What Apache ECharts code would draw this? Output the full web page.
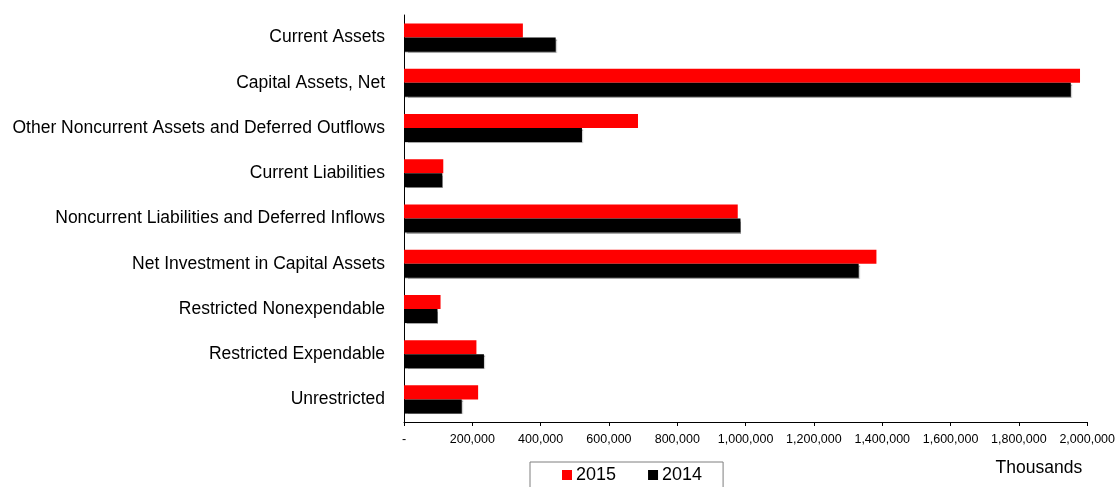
<!DOCTYPE html>
<html>
<head>
<meta charset="utf-8">
<script src="https://cdn.jsdelivr.net/npm/echarts@6/dist/echarts.min.js"></script>
<style>
  html, body { margin: 0; padding: 0; background: #fff; }
  #chart { width: 1118px; height: 487px; }
</style>
</head>
<body>
<div id="chart"></div>
<script>
// Statement of net position components, in thousands of dollars
const categories = [
  'Current Assets',
  'Capital Assets, Net',
  'Other Noncurrent Assets and Deferred Outflows',
  'Current Liabilities',
  'Noncurrent Liabilities and Deferred Inflows',
  'Net Investment in Capital Assets',
  'Restricted Nonexpendable',
  'Restricted Expendable',
  'Unrestricted'
];
const values2015 = [348000, 1979000, 685000, 115000, 977000, 1383000, 107000, 212000, 217000];
const values2014 = [444000, 1952000, 521000, 112000, 985000, 1331000, 98000, 234000, 169000];
const xTicks = [0, 200000, 400000, 600000, 800000, 1000000, 1200000, 1400000, 1600000, 1800000, 2000000];

const FONT = '"Liberation Sans", Arial, sans-serif';

function fmt(v) {
  if (v === 0) return '-';
  return v.toString().replace(/\B(?=(\d{3})+(?!\d))/g, ',');
}

const chart = echarts.init(document.getElementById('chart'), null, { renderer: 'canvas' });
chart.setOption({
  animation: false,
  backgroundColor: '#ffffff',
  grid: { left: 404, right: 29, top: 15, bottom: 65, containLabel: false },
  legend: {
    data: ['2015', '2014'],
    left: 530,
    top: 462,
    itemWidth: 10,
    itemHeight: 10,
    itemGap: 32,
    padding: [4, 21, 10, 32],
    borderColor: '#7f7f7f',
    borderWidth: 1,
    icon: 'rect',
    textStyle: { fontFamily: FONT, fontSize: 18, color: '#000', padding: [0, 0, 0, -1] }
  },
  xAxis: {
    type: 'value',
    min: xTicks[0],
    max: xTicks[xTicks.length - 1],
    interval: xTicks[1] - xTicks[0],
    name: 'Thousands',
    nameLocation: 'end',
    nameGap: 0,
    nameTextStyle: { fontFamily: FONT, fontSize: 17.5, color: '#000', align: 'right', verticalAlign: 'top', padding: [37, 5, 0, 0] },
    axisLine: { show: true, lineStyle: { color: '#000', width: 1 } },
    axisTick: { show: true, length: 4, lineStyle: { color: '#000' } },
    axisLabel: { fontFamily: FONT, fontSize: 12.5, color: '#000', margin: 11, formatter: fmt },
    splitLine: { show: false }
  },
  yAxis: {
    type: 'category',
    data: categories,
    inverse: true,
    axisLine: { show: true, lineStyle: { color: '#000', width: 1 } },
    axisTick: { show: false },
    axisLabel: { fontFamily: FONT, fontSize: 17.5, color: '#000', margin: 19 }
  },
  series: [
    {
      name: '2015',
      type: 'bar',
      data: values2015,
      barGap: '0%',
      barCategoryGap: '38%',
      itemStyle: { color: '#ff0000' }
    },
    {
      name: '2014',
      type: 'bar',
      data: values2014,
      itemStyle: {
        color: '#000000',
        shadowColor: 'rgba(0,0,0,0.35)',
        shadowOffsetX: 1,
        shadowOffsetY: 1,
        shadowBlur: 1
      }
    }
  ]
});
</script>
</body>
</html>
